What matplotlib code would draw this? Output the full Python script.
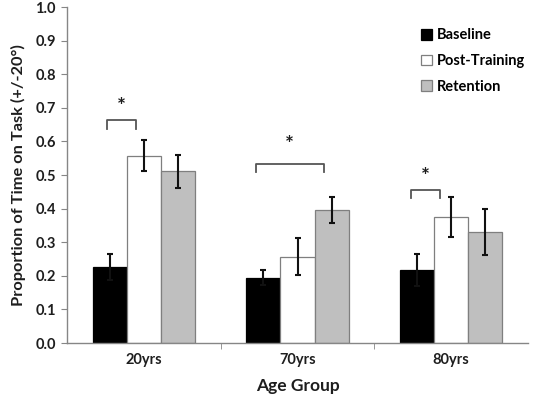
import matplotlib.pyplot as plt
import matplotlib as mpl
import numpy as np

mpl.rcParams.update({
    'font.family': ['Lato', 'DejaVu Sans'],
    'font.weight': 'bold',
    'font.size': 10.5,
})

groups = ['20yrs', '70yrs', '80yrs']
series = ['Baseline', 'Post-Training', 'Retention']
baseline = [0.227, 0.195, 0.218]
post_training = [0.558, 0.257, 0.376]
retention = [0.511, 0.397, 0.331]
baseline_err = [0.039, 0.023, 0.047]
post_err = [0.045, 0.056, 0.060]
retention_err = [0.050, 0.039, 0.069]

# significance brackets: (x_left, x_right, bracket height, star height)
brackets = [(-0.24, -0.05, 0.663, 0.702),
            (0.73, 1.17, 0.534, 0.590),
            (1.74, 1.93, 0.457, 0.493)]

fills = ['#000000', '#ffffff', '#bfbfbf']
edges = ['#000000', '#7f7f7f', '#7f7f7f']
axis_col = '#868686'
txt_col = '#1e1e1e'

fig = plt.figure(figsize=(5.33, 3.97), dpi=100)
ax = fig.add_axes([0.1257, 0.136, 0.865, 0.846])

x = np.arange(len(groups))
w = 0.222
vals = [baseline, post_training, retention]
errs = [baseline_err, post_err, retention_err]
for i, (v, e) in enumerate(zip(vals, errs)):
    ax.bar(x + (i - 1) * w, v, width=w, color=fills[i], edgecolor=edges[i],
           linewidth=0.9, label=series[i], zorder=2)
    ax.errorbar(x + (i - 1) * w, v, yerr=e, fmt='none', ecolor='#111111',
                elinewidth=1.5, capsize=2.5, capthick=1.5, zorder=3)

for xl, xr, h, sh in brackets:
    ax.plot([xl, xl, xr, xr], [h - 0.025, h, h, h - 0.025], color='#555555',
            linewidth=1.3, zorder=3)
    ax.text((xl + xr) / 2, sh, '*', ha='center', va='center',
            fontsize=15, color=txt_col)

ax.set_xlim(-0.5, 2.5)
ax.set_ylim(0, 1.0)
yt = np.arange(0, 1.01, 0.1)
ax.set_yticks(yt)
ax.set_yticklabels([f'{t:.1f}' for t in yt])
ax.set_xticks(x)
ax.set_xticklabels(groups)
ax.set_xticks([0.5, 1.5], minor=True)
ax.tick_params(axis='x', which='major', length=0, pad=7)
ax.tick_params(axis='x', which='minor', length=4, color=axis_col, direction='out')
ax.tick_params(axis='y', length=4, color=axis_col, direction='out', pad=4)
for lab in ax.get_xticklabels() + ax.get_yticklabels():
    lab.set_fontweight('bold')
    lab.set_color(txt_col)

for s in ['top', 'right']:
    ax.spines[s].set_visible(False)
for s in ['left', 'bottom']:
    ax.spines[s].set_color(axis_col)
    ax.spines[s].set_linewidth(1.0)

ax.set_xlabel('Age Group', fontsize=12.5, fontweight='bold', labelpad=8, color=txt_col)
ax.set_ylabel('Proportion of Time on Task (+/-20°)', fontsize=11.8,
              fontweight='bold', labelpad=7, color=txt_col)

ax.legend(loc='upper left', bbox_to_anchor=(0.74, 0.976), frameon=False,
          handlelength=0.75, handleheight=0.75, handletextpad=0.3,
          labelspacing=0.8, prop={'weight': 'bold', 'size': 10.5})

fig.savefig('out.png', dpi=100)
